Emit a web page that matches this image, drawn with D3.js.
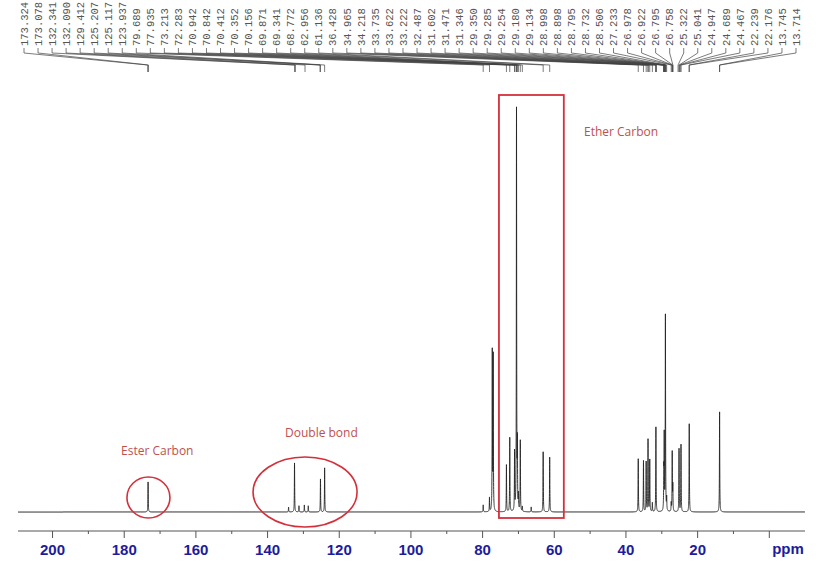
<!DOCTYPE html>
<html>
<head>
<meta charset="utf-8">
<script src="https://cdn.jsdelivr.net/npm/d3@7"></script>
<style>
  html, body { margin: 0; padding: 0; background: #fff; }
  svg { display: block; }
</style>
</head>
<body>
<svg id="chart" width="816" height="567"></svg>
<script>
// ---- Data ----
const peakPpm = [173.20, 134.00, 132.34, 131.10, 129.60, 128.50, 125.10, 123.94,
  79.69, 77.94, 77.16, 76.90, 73.21, 72.28, 70.94, 70.40, 70.16, 69.87, 69.34, 68.77, 66.30,
  62.96, 61.14, 36.43, 34.97, 34.22, 33.70, 33.22, 32.49, 31.50, 29.30, 29.18, 28.85, 28.50,
  27.23, 26.95, 26.78, 25.05, 24.50, 22.20, 13.73];
const peakHeight = [7.3, 1.2, 11.9, 1.5, 1.7, 1.5, 8.0, 10.7,
  1.7, 3.4, 38.5, 37.5, 11.4, 18.0, 14.3, 97.5, 15.0, 3.6, 17.2, 1.2, 1.2,
  14.6, 13.3, 12.9, 12.4, 12.1, 17.5, 12.6, 2.2, 20.6, 9.0, 17.5, 47.5, 3.0,
  2.0, 14.3, 6.0, 15.3, 16.3, 21.4, 24.3];

const shiftLabels = ["173.324","173.078","132.341","132.090","129.412","125.207","125.117","123.937",
  "79.689","77.935","73.213","72.283","70.942","70.842","70.412","70.352","70.156","69.871","69.341",
  "68.772","62.956","61.136","36.428","34.965","34.218","33.735","33.622","33.222","32.487","31.602",
  "31.471","31.346","29.350","29.285","29.254","29.180","29.134","28.998","28.898","28.795","28.732",
  "28.506","27.233","26.978","26.922","26.795","26.758","25.322","25.041","24.947","24.689","24.467",
  "22.239","22.176","13.745","13.714"];

const majorTicks = [200, 180, 160, 140, 120, 100, 80, 60, 40, 20, 0];
const minorTicks = [190, 170, 150, 130, 110, 90, 70, 50, 30, 10];
const axisUnit = "ppm";

const annotations = [
  { text: "Ester Carbon", ppm: 173.1, ry: 20.5, rx: 21.5, cy: 497.5, tx: 121, ty: 455, shape: "ellipse" },
  { text: "Double bond", ppm: 129.4, ry: 35, rx: 52, cy: 492, tx: 285, ty: 437, shape: "ellipse" },
  { text: "Ether Carbon", ppm0: 75.3, ppm1: 57.2, y0: 95, y1: 518, tx: 584, ty: 136, shape: "rect" }
];

// ---- Scales ----
const svg = d3.select("#chart");
const x = d3.scaleLinear().domain([209.5, -10.1]).range([18, 805]);
const y = d3.scaleLinear().domain([0, 100]).range([512, 100]);

// ---- Spectrum as a sum of narrow Lorentzian lines at the read peaks ----
const hw = 0.05;
const grid = d3.range(209.5, -10.1, -0.01).concat(peakPpm).sort((a, b) => b - a);
const spectrum = grid.map(p => {
  let s = 0;
  for (let i = 0; i < peakPpm.length; i++) {
    const d = (p - peakPpm[i]) / hw;
    s += peakHeight[i] / (1 + d * d);
  }
  return [p, s];
});

svg.append("path")
  .datum(spectrum)
  .attr("fill", "none")
  .attr("stroke", "#222")
  .attr("stroke-width", 0.9)
  .attr("d", d3.line().x(d => x(d[0])).y(d => y(d[1])));

// ---- Axis ----
const axisY = 531;
const ax = svg.append("g").attr("transform", `translate(0,${axisY})`);
ax.append("line").attr("x1", 18).attr("x2", 805).attr("y1", 0).attr("y2", 0)
  .attr("stroke", "#555").attr("stroke-width", 1);
ax.append("g").call(d3.axisBottom(x).tickValues(majorTicks).tickSize(7)
    .tickFormat(d => d === 0 ? "" : d3.format("d")(d)))
  .call(g => g.select(".domain").remove())
  .call(g => g.selectAll(".tick line").attr("stroke", "#555"))
  .call(g => g.selectAll(".tick text")
    .attr("font-family", "'Liberation Sans', Arial, sans-serif")
    .attr("font-weight", "bold").attr("font-size", 15)
    .attr("fill", "#1c1c9c").attr("y", 13).attr("dy", "0.71em"));
ax.append("g").call(d3.axisBottom(x).tickValues(minorTicks).tickSize(3).tickFormat(""))
  .call(g => g.select(".domain").remove())
  .call(g => g.selectAll(".tick line").attr("stroke", "#555"));
ax.append("text").attr("x", 788).attr("y", 23)
  .attr("text-anchor", "middle")
  .attr("font-family", "'Liberation Sans', Arial, sans-serif")
  .attr("font-weight", "bold").attr("font-size", 15)
  .attr("fill", "#1c1c9c").text(axisUnit);

// ---- Peak labels at top ----
const lx0 = 24, lx1 = 796;
const lstep = (lx1 - lx0) / (shiftLabels.length - 1);
const lab = svg.append("g");
shiftLabels.forEach((t, i) => {
  const lxp = lx0 + i * lstep;
  const px = x(+t);
  lab.append("text")
    .attr("transform", `translate(${lxp},46) rotate(-90)`)
    .attr("dy", "0.35em")
    .attr("font-family", "'Liberation Mono', 'DejaVu Sans Mono', monospace")
    .attr("font-size", 10.5)
    .attr("fill", "#555")
    .text(t);
  lab.append("path")
    .attr("d", `M${lxp},48 L${lxp},53 L${px},65 L${px},72`)
    .attr("fill", "none").attr("stroke", "#444").attr("stroke-width", 0.7);
});

// ---- Annotations ----
const red = "#d4303c";
annotations.forEach(a => {
  if (a.shape === "ellipse") {
    svg.append("ellipse").attr("cx", x(a.ppm)).attr("cy", a.cy)
      .attr("rx", a.rx).attr("ry", a.ry)
      .attr("fill", "none").attr("stroke", red).attr("stroke-width", 1.6);
  } else {
    svg.append("rect").attr("x", x(a.ppm0)).attr("y", a.y0)
      .attr("width", x(a.ppm1) - x(a.ppm0)).attr("height", a.y1 - a.y0)
      .attr("fill", "none").attr("stroke", red).attr("stroke-width", 1.8);
  }
  svg.append("text").attr("x", a.tx).attr("y", a.ty)
    .attr("font-family", "'Open Sans', 'Noto Sans', sans-serif")
    .attr("font-size", 12).attr("fill", "#c0504d").text(a.text);
});
</script>
</body>
</html>
